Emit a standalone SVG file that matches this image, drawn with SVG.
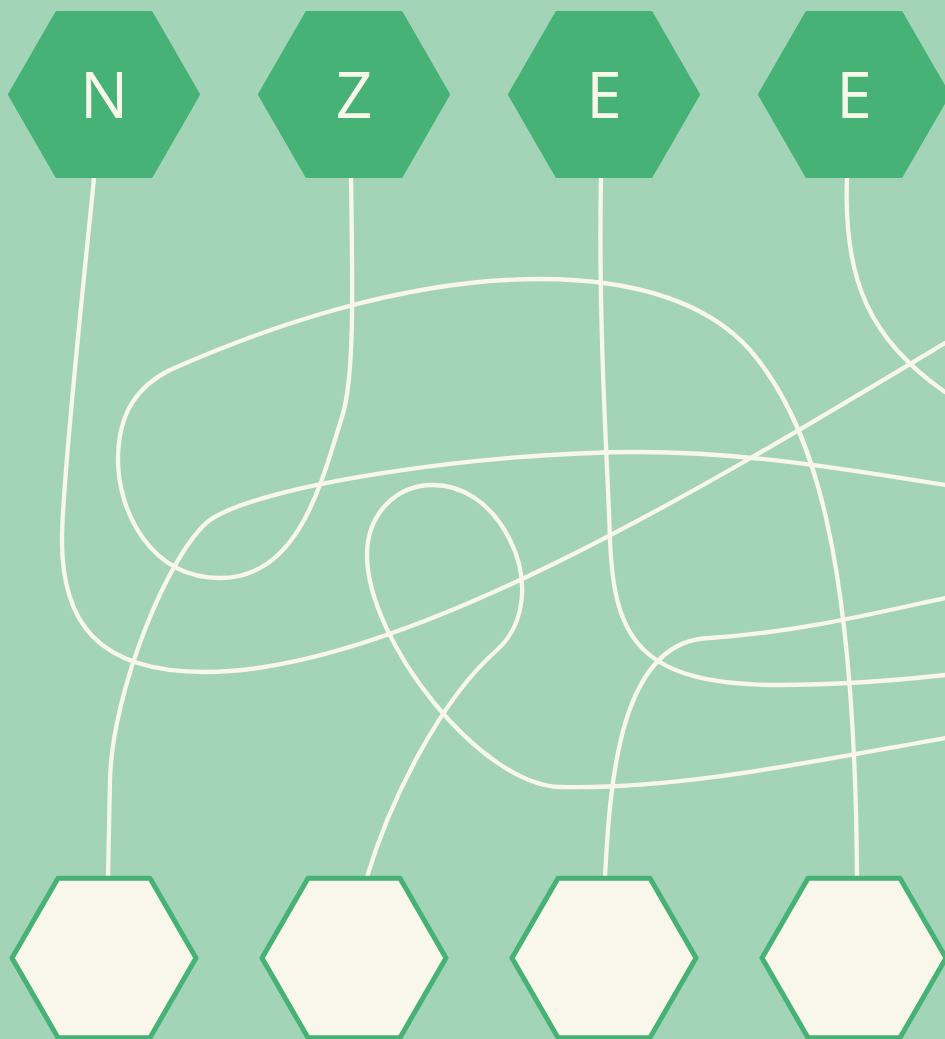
<svg xmlns="http://www.w3.org/2000/svg" width="945" height="1039" viewBox="0 0 945 1039">
<style>
.top polygon{fill:#47B275;stroke:#47B275;stroke-width:4;stroke-linejoin:round}
.top text{fill:#F8F7E9;font-family:"Open Sans","Liberation Sans",sans-serif;font-size:64px;text-anchor:middle}
.bot polygon{fill:#F8F7E9;stroke:#47B275;stroke-width:5;stroke-linejoin:round}
#connectors path{fill:none;stroke:#F8F7E9;stroke-width:4.3;stroke-linecap:round}
</style>
<rect width="945" height="1039" fill="#A3D4B8"/>
<g id="connectors">
<path d="M94,178 C86,260 62,480 62,540 C62,620 95,672 205,672 C400,672 700,490 945,343"/>
<path d="M351,178 C353,300 354,380 342,417 C322,480 300,578 220,578 C150,578 118,510 118,460 C118,410 140,385 170,370 C260,330 400,279 540,279 C640,279 710,305 750,350 C815,425 855,560 857,877"/>
<path d="M601,178 C598,330 608,470 610,540 C614,640 640,685 780,685 C840,685 900,680 945,675"/>
<path d="M847,178 C843,280 870,340 945,392"/>
<path d="M945,485 C840,468 740,452 640,452 C480,452 260,485 210,520 C170,550 112,690 110,780 L108,877"/>
<path d="M367,877 C390,800 440,700 497,650 C525,625 530,580 510,540 C490,500 460,485 433,485 C395,485 367,515 367,555 C367,640 480,785 560,787 C680,790 820,760 945,738"/>
<path d="M605,877 C610,780 620,640 710,638 C800,632 880,612 945,598"/>
</g>
<g id="node-n" class="top"><polygon transform="translate(104,94.5)" points="-94,0 -47,-81.4 47,-81.4 94,0 47,81.4 -47,81.4"/><text x="104" y="118">N</text></g>
<g id="node-z" class="top"><polygon transform="translate(354,94.5)" points="-94,0 -47,-81.4 47,-81.4 94,0 47,81.4 -47,81.4"/><text x="354" y="118">Z</text></g>
<g id="node-e1" class="top"><polygon transform="translate(604,94.5)" points="-94,0 -47,-81.4 47,-81.4 94,0 47,81.4 -47,81.4"/><text x="604" y="118">E</text></g>
<g id="node-e2" class="top"><polygon transform="translate(854,94.5)" points="-94,0 -47,-81.4 47,-81.4 94,0 47,81.4 -47,81.4"/><text x="854" y="118">E</text></g>
<g id="slot-1" class="bot"><polygon transform="translate(104,958)" points="-92,0 -46,-79.7 46,-79.7 92,0 46,79.7 -46,79.7"/></g>
<g id="slot-2" class="bot"><polygon transform="translate(354,958)" points="-92,0 -46,-79.7 46,-79.7 92,0 46,79.7 -46,79.7"/></g>
<g id="slot-3" class="bot"><polygon transform="translate(604,958)" points="-92,0 -46,-79.7 46,-79.7 92,0 46,79.7 -46,79.7"/></g>
<g id="slot-4" class="bot"><polygon transform="translate(854,958)" points="-92,0 -46,-79.7 46,-79.7 92,0 46,79.7 -46,79.7"/></g>
</svg>
